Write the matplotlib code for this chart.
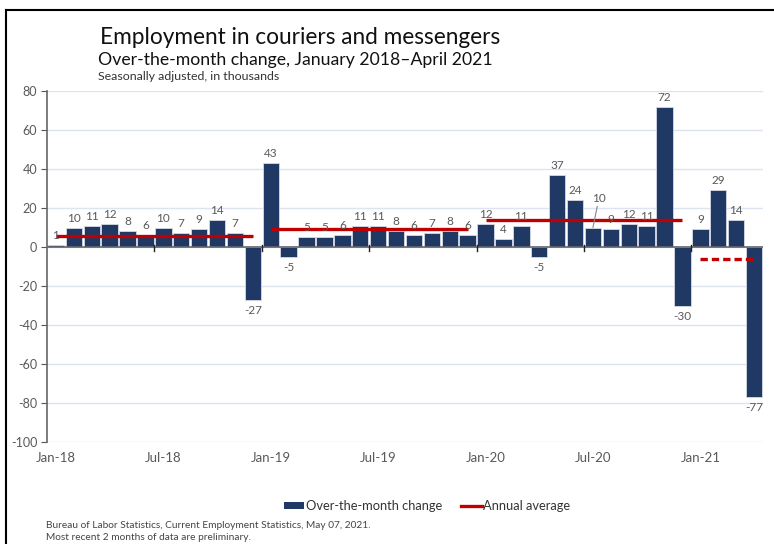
import matplotlib.pyplot as plt
from matplotlib.lines import Line2D
from matplotlib.patches import Patch

# Monthly over-the-month change, Jan 2018 - Apr 2021 (thousands)
months = ["Jan-18", "Feb-18", "Mar-18", "Apr-18", "May-18", "Jun-18",
          "Jul-18", "Aug-18", "Sep-18", "Oct-18", "Nov-18", "Dec-18",
          "Jan-19", "Feb-19", "Mar-19", "Apr-19", "May-19", "Jun-19",
          "Jul-19", "Aug-19", "Sep-19", "Oct-19", "Nov-19", "Dec-19",
          "Jan-20", "Feb-20", "Mar-20", "Apr-20", "May-20", "Jun-20",
          "Jul-20", "Aug-20", "Sep-20", "Oct-20", "Nov-20", "Dec-20",
          "Jan-21", "Feb-21", "Mar-21", "Apr-21"]
change = [1, 10, 11, 12, 8, 6, 10, 7, 9, 14, 7, -27,
          43, -5, 5, 5, 6, 11, 11, 8, 6, 7, 8, 6,
          12, 4, 11, -5, 37, 24, 10, 9, 12, 11, 72, -30,
          9, 29, 14, -77]

# Annual averages, with the first and last month index each one covers
avg_values = [5.7, 9.3, 13.9, -6.3]
avg_start = [0, 12, 24, 36]
avg_end = [11, 23, 35, 39]

tick_labels = ["Jan-18", "Jul-18", "Jan-19", "Jul-19", "Jan-20", "Jul-20", "Jan-21"]

navy = "#1f3864"
red = "#c00000"
gray = "#595959"
font = "Lato"

plt.rcParams["font.family"] = [font, "DejaVu Sans"]
plt.rcParams["axes.unicode_minus"] = False

fig = plt.figure(figsize=(7.74, 5.44), dpi=100)
ax = fig.add_axes([47 / 774, 1 - 442 / 544, (763 - 47) / 774, (442 - 91) / 544])

x = list(range(len(change)))
ax.bar(x, change, width=0.92, color=navy, edgecolor="#d5dbe5", linewidth=0.6, zorder=3)

# Annual average lines (current year dashed)
for v, s, e in zip(avg_values, avg_start, avg_end):
    ls = (0, (2.2, 1.2)) if s == 36 else "-"
    ax.plot([s, e], [v, v], color=red, lw=2.4, ls=ls, zorder=4, solid_capstyle="butt")

# Value labels
for i, v in enumerate(change):
    if i == 30:
        ax.annotate(str(v), xy=(i, v), xytext=(6, 24), textcoords="offset pixels",
                    ha="center", va="bottom", fontsize=8.5, color=gray,
                    arrowprops=dict(arrowstyle="-", color="#888888", lw=0.8,
                                    shrinkA=0, shrinkB=0), zorder=5)
    elif v >= 0:
        ax.annotate(str(v), xy=(i, v), xytext=(0, 4), textcoords="offset pixels",
                    ha="center", va="bottom", fontsize=8.5, color=gray, zorder=5)
    else:
        ax.annotate(str(v), xy=(i, v), xytext=(0, -5), textcoords="offset pixels",
                    ha="center", va="top", fontsize=8.5, color=gray, zorder=5)

ax.set_xlim(-0.5, 39.5)
ax.set_ylim(-100, 80)
ax.set_yticks(range(-100, 81, 20))
ax.yaxis.grid(True, color="#dde4f0", lw=1)
ax.set_axisbelow(True)
ax.tick_params(axis="y", length=4, color="#555555", labelcolor=gray, labelsize=9, pad=3)

ax.set_xticks(range(0, 40, 6))
ax.set_xticklabels(tick_labels)
ax.tick_params(axis="x", length=0, labelcolor=gray, labelsize=9.5, pad=7)

for side in ["top", "right", "bottom"]:
    ax.spines[side].set_visible(False)
ax.spines["left"].set_color("#666666")
ax.spines["left"].set_linewidth(1.2)

# Zero line with half-year tick marks
ax.axhline(0, color="#666666", lw=1.2, zorder=4)
for b in range(6, 40, 6):
    ax.plot([b - 0.5, b - 0.5], [-2.2, 1.2], color="#222222", lw=1, zorder=5)

# Titles
fig.text(100 / 774, 1 - 37 / 544, "Employment in couriers and messengers",
         fontsize=16.3, color="#111111", va="center", ha="left")
fig.text(98 / 774, 1 - 60 / 544, "Over-the-month change, January 2018\u2013April 2021",
         fontsize=12.7, color="#111111", va="center", ha="left")
fig.text(98 / 774, 1 - 77 / 544, "Seasonally adjusted, in thousands",
         fontsize=8.9, color="#333333", va="center", ha="left")

# Legend
handles = [Patch(facecolor=navy, edgecolor="none"),
           Line2D([], [], color=red, lw=2.4)]
fig.legend(handles, ["Over-the-month change", "Annual average"],
           loc="center", bbox_to_anchor=(427 / 774, 1 - 506 / 544), ncol=2,
           frameon=False, fontsize=9.3, handlelength=1.6, handleheight=0.45,
           handletextpad=0.1, columnspacing=1.5, labelcolor="#333333")

# Source notes
fig.text(46 / 774, 1 - 525 / 544,
         "Bureau of Labor Statistics, Current Employment Statistics, May 07, 2021.",
         fontsize=7.3, color="#444444", va="center")
fig.text(46 / 774, 1 - 538 / 544, "Most recent 2 months of data are preliminary.",
         fontsize=7.3, color="#444444", va="center")

# Outer frame
fig.add_artist(Line2D([6 / 774, 6 / 774], [0, 1 - 10 / 544], transform=fig.transFigure,
                      color="black", lw=1.5))
fig.add_artist(Line2D([6 / 774, 1], [1 - 10 / 544, 1 - 10 / 544], transform=fig.transFigure,
                      color="black", lw=1.5))

fig.savefig("out.png", dpi=100)
